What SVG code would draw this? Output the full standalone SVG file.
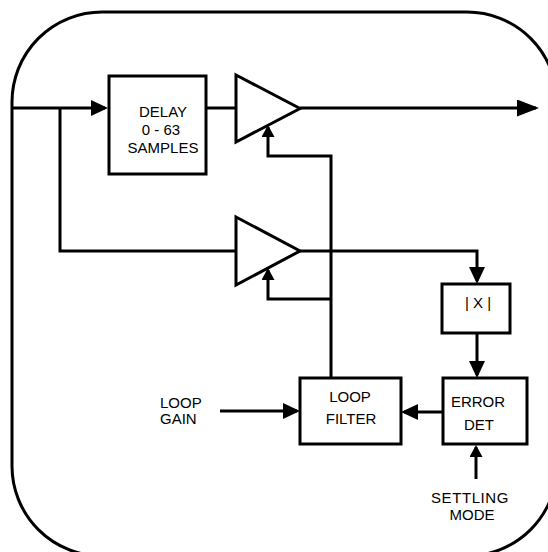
<svg xmlns="http://www.w3.org/2000/svg" width="548" height="552" viewBox="0 0 548 552">
<style>
.ln{fill:none;stroke:#000;stroke-width:3;stroke-linejoin:miter}
.box{fill:#fff;stroke:#000;stroke-width:3}
.amp{fill:#fff;stroke:#000;stroke-width:3;stroke-linejoin:miter}
text{font-family:"Liberation Sans",Arial,sans-serif;font-size:15px;fill:#000}
.c{text-anchor:middle}
</style>
<defs>
<marker id="ah" markerUnits="userSpaceOnUse" viewBox="0 0 17 16" markerWidth="17" markerHeight="16" refX="14" refY="8" orient="auto">
<path d="M0,0 L17,8 L0,16 z" fill="#000"/>
</marker>
<marker id="ahs" markerUnits="userSpaceOnUse" viewBox="0 0 12 13" markerWidth="12" markerHeight="13" refX="10" refY="6.5" orient="auto">
<path d="M0,0 L12,6.5 L0,13 z" fill="#000"/>
</marker>
<marker id="ahl" markerUnits="userSpaceOnUse" viewBox="0 0 22 17" markerWidth="22" markerHeight="17" refX="19" refY="8.5" orient="auto">
<path d="M0,0 L22,8.5 L0,17 z" fill="#000"/>
</marker>
</defs>

<g id="border">
<rect x="12" y="12" width="545" height="544" rx="90" ry="90" class="ln"/>
</g>

<g id="connectors">
<path class="ln" d="M12,108 H105" marker-end="url(#ah)"/>
<path class="ln" d="M60,108 V251 H236"/>
<path class="ln" d="M206,108 H236"/>
<path class="ln" d="M300,108 H536" marker-end="url(#ahl)"/>
<path class="ln" d="M331,378 V156 H268 V127" marker-end="url(#ahs)"/>
<path class="ln" d="M331,299 H268 V270" marker-end="url(#ahs)"/>
<path class="ln" d="M300,251 H477 V281" marker-end="url(#ah)"/>
<path class="ln" d="M477,333 V375" marker-end="url(#ah)"/>
<path class="ln" d="M443,412 H404" marker-end="url(#ah)"/>
<path class="ln" d="M220,411 H297" marker-end="url(#ah)"/>
<path class="ln" d="M476,479 V447" marker-end="url(#ahs)"/>
</g>

<g id="delay">
<rect class="box" x="109" y="76" width="97" height="98"/>
<text class="c" x="163" y="117">DELAY</text>
<text class="c" x="161" y="135">0 - 63</text>
<text class="c" x="163" y="153">SAMPLES</text>
</g>

<g id="amp1">
<polygon class="amp" points="236,75 300,108.5 236,142"/>
</g>

<g id="amp2">
<polygon class="amp" points="236,217 300,251 236,285"/>
</g>

<g id="absx">
<rect class="box" x="442" y="284" width="68" height="49"/>
<text class="c" x="478" y="308">| X |</text>
</g>

<g id="errordet">
<rect class="box" x="443" y="378" width="84" height="66"/>
<text class="c" x="478" y="407">ERROR</text>
<text class="c" x="479" y="430">DET</text>
</g>

<g id="loopfilter">
<rect class="box" x="300" y="378" width="101" height="66"/>
<text class="c" x="350" y="402">LOOP</text>
<text class="c" x="351" y="424">FILTER</text>
</g>

<g id="loopgain">
<text x="160" y="408">LOOP</text>
<text x="160" y="424">GAIN</text>
</g>

<g id="settling">
<text class="c" x="470" y="503" letter-spacing="0.6">SETTLING</text>
<text class="c" x="472" y="520">MODE</text>
</g>
</svg>
